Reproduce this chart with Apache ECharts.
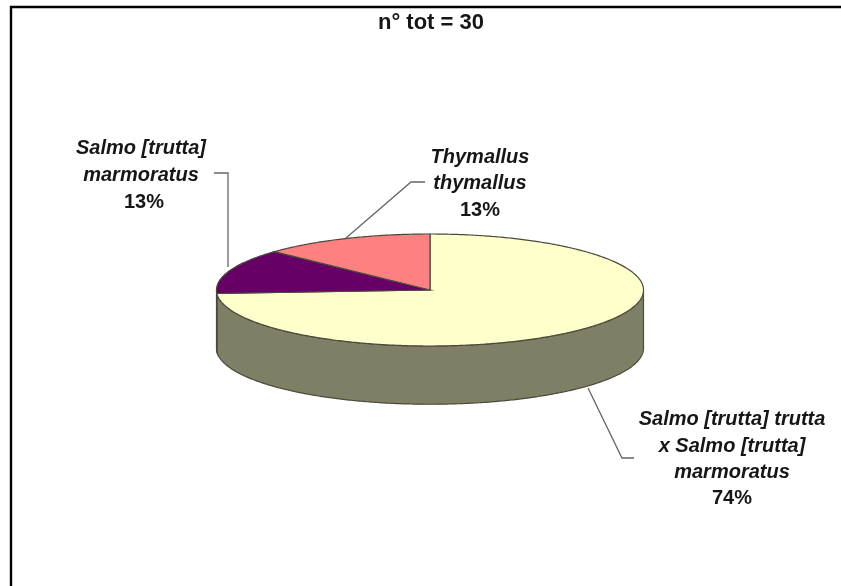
<!DOCTYPE html>
<html><head><meta charset="utf-8">
<style>html,body{margin:0;padding:0;background:#fff}#c{width:841px;height:586px}</style>
<script src="https://cdn.jsdelivr.net/npm/echarts@6/dist/echarts.min.js"></script>
</head><body><div id="c"></div>
<script>
var categories = ['Salmo [trutta] trutta x Salmo [trutta] marmoratus', 'Salmo [trutta] marmoratus', 'Thymallus thymallus'];
var values = [74, 13, 13];
var labelLines = [['Salmo [trutta] trutta', 'x Salmo [trutta]', 'marmoratus'], ['Salmo [trutta]', 'marmoratus'], ['Thymallus', 'thymallus']];
var topColors = ['#ffffcc', '#660066', '#ff8080'];
var title = 'n° tot = 30';

var wallColor = '#7f7f66';
var outline = '#4a4a3c';
var total = values.reduce(function (a, b) { return a + b; }, 0);
var starts = [];
values.reduce(function (acc, v, i) { starts[i] = acc; return acc + v; }, 0);

var chart = echarts.init(document.getElementById('c'), null, { renderer: 'canvas' });

function ang(v) { return v / total * 2 * Math.PI; }
function pt(cx, cy, rx, ry, a, dy) { return [cx + rx * Math.sin(a), cy - ry * Math.cos(a) + (dy || 0)]; }
function arc(cx, cy, rx, ry, a0, a1, dy) {
  var pts = [], n = Math.max(2, Math.ceil((a1 - a0) / 0.01));
  for (var i = 0; i <= n; i++) pts.push(pt(cx, cy, rx, ry, a0 + (a1 - a0) * i / n, dy));
  return pts;
}

function renderSlice(params, api) {
  var c = api.coord([0, 0]);
  var e = api.coord([1, 1]);
  var rx = e[0] - c[0], ry = c[1] - e[1];
  var depth = api.coord([0, -1.04])[1] - c[1];
  var a0 = ang(api.value(1)), a1 = a0 + ang(api.value(2));
  var children = [];
  var w0 = Math.max(a0, Math.PI / 2), w1 = Math.min(a1, 3 * Math.PI / 2);
  if (w1 > w0) {
    children.push({
      type: 'polygon', z2: 1,
      shape: { points: arc(c[0], c[1], rx, ry, w0, w1, 0).concat(arc(c[0], c[1], rx, ry, w0, w1, depth).reverse()) },
      style: { fill: wallColor, stroke: outline, lineWidth: 1.2 }
    });
  }
  children.push({
    type: 'polygon', z2: 2,
    shape: { points: [c].concat(arc(c[0], c[1], rx, ry, a0, a1, 0)) },
    style: { fill: api.visual('color'), stroke: outline, lineWidth: 1.2 }
  });
  return { type: 'group', children: children };
}

var seriesData = values.map(function (v, i) {
  return { name: categories[i], value: [i, starts[i], v], itemStyle: { color: topColors[i] } };
});

function textEl(str, x, y, font) {
  return { type: 'text', silent: true, x: x, y: y, style: {
    text: str, font: font, fill: '#161616', align: 'center', verticalAlign: 'middle',
    shadowBlur: 1.5, shadowColor: 'rgba(0,0,0,0.35)'
  } };
}
function leader(points) {
  return { type: 'polyline', silent: true, shape: { points: points }, style: { stroke: '#666', lineWidth: 1.3, fill: null } };
}
var italicFont = 'italic bold 20px "Liberation Sans"';
var uprightFont = 'bold 20px "Liberation Sans"';
var labelBlocks = [
  { x: 732, ys: [419, 446, 472.5], py: 498 },
  { x: 141, ys: [148, 175], py: 202 },
  { x: 480, ys: [157, 183], py: 210 }
];
var textEls = [];
labelBlocks.forEach(function (b, i) {
  labelLines[i].forEach(function (l, j) { textEls.push(textEl(l, b.x, b.ys[j], italicFont)); });
  textEls.push(textEl(values[i] + '%', b.x + (i === 1 ? 3 : 0), b.py, uprightFont));
});

chart.setOption({
  animation: false,
  backgroundColor: '#ffffff',
  grid: { left: 216.5, top: 234, width: 427, height: 112 },
  xAxis: { type: 'value', min: -1, max: 1, show: false },
  yAxis: { type: 'value', min: -1, max: 1, show: false },
  series: [{
    type: 'custom',
    clip: false,
    renderItem: renderSlice,
    encode: { x: 0, y: 1 },
    data: seriesData
  }],
  graphic: { elements: [
    { type: 'polyline', silent: true, shape: { points: [[11, 586], [11, 7], [841, 7]] }, style: { stroke: '#000', lineWidth: 2.4, fill: null } },
    textEl(title, 431, 23, 'bold 22px "Liberation Sans"'),
    leader([[214, 173], [228, 173], [228, 267]]),
    leader([[425, 182], [411, 182], [346, 238]]),
    leader([[588, 388], [622, 458], [634, 458]])
  ].concat(textEls) }
});
</script></body></html>
